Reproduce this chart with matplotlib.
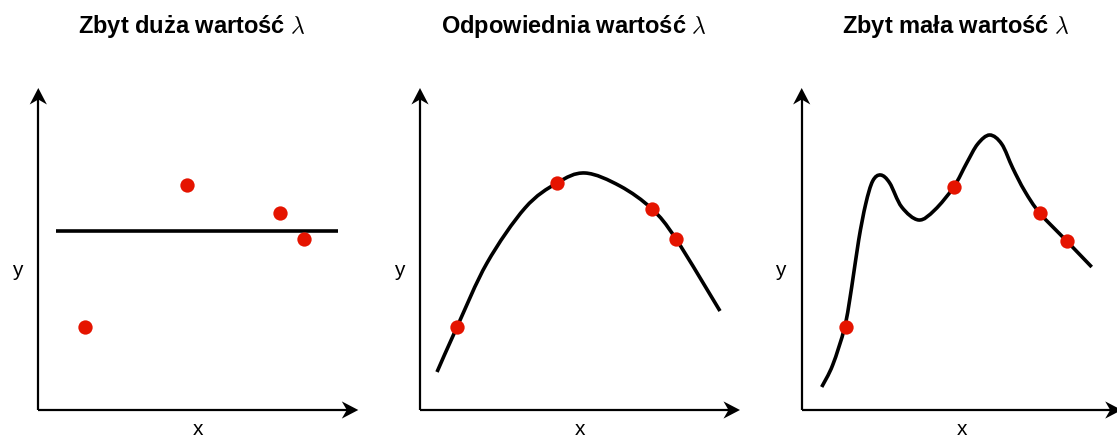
import matplotlib
matplotlib.use("Agg")
import matplotlib.pyplot as plt
import numpy as np
from matplotlib.path import Path
from matplotlib.patches import PathPatch, Polygon

plt.rcParams["font.family"] = ["Liberation Sans", "DejaVu Sans"]
plt.rcParams["mathtext.fontset"] = "cm"

TITLES = ["Zbyt duża wartość $\\lambda$",
          "Odpowiednia wartość $\\lambda$",
          "Zbyt mała wartość $\\lambda$"]

pts1_x = [47, 149, 242, 266]
pts1_y = [83, 225, 197, 171]
pts2_x = [37, 137, 232, 256]
pts2_y = [83, 227, 201, 171]
pts3_x = [44, 152, 238, 265]
pts3_y = [83, 223, 197, 169]

# fitted curves
fit1_x = [18, 300]
fit1_y = [179, 179]
fit2_x = [17, 37, 67, 105, 137, 165, 200, 232, 256, 300]
fit2_y = [38, 83, 147, 202, 227, 237, 224, 201, 171, 99]
fit3_x = [20, 31, 43, 50, 57, 64, 71, 79, 88, 100, 117, 133, 152, 165, 176, 188, 200, 211, 223, 238, 265, 290]
fit3_y = [23, 45, 83, 123, 170, 206, 229, 235, 227, 203, 190, 200, 223, 247, 266, 275, 266, 242, 219, 197, 169, 143]

RED = "#e51400"


def smooth_path(x, y):
    # catmull-rom through the read points, handed to matplotlib as cubic beziers
    p = np.column_stack([x, y]).astype(float)
    if len(p) < 3:
        return Path(p)
    verts = [p[0]]
    codes = [Path.MOVETO]
    for i in range(len(p) - 1):
        p0 = p[i - 1] if i > 0 else p[i]
        p1, p2 = p[i], p[i + 1]
        p3 = p[i + 2] if i + 2 < len(p) else p[i + 1]
        verts += [p1 + (p2 - p0) / 6, p2 - (p3 - p1) / 6, p2]
        codes += [Path.CURVE4] * 3
    return Path(verts, codes)


def draw_axes(ax):
    ax.plot([0, 310], [0, 0], color="black", lw=1.6, solid_capstyle="butt")
    ax.plot([0, 0], [0, 312], color="black", lw=1.6, solid_capstyle="butt")
    ax.add_patch(Polygon([(320, 0), (303.5, -8.6), (308.5, 0), (303.5, 8.6)],
                         closed=True, color="black", lw=0))
    ax.add_patch(Polygon([(0, 322), (-8.6, 305.5), (0, 310.5), (8.6, 305.5)],
                         closed=True, color="black", lw=0))
    ax.text(160, -10, "x", ha="center", va="top", fontsize=15)
    ax.text(-21, 140, "y", ha="center", va="center", fontsize=15)


fig = plt.figure(figsize=(11.17, 4.37), dpi=100)
origins = [38.3, 420, 801.7]
panels = [(pts1_x, pts1_y, fit1_x, fit1_y),
          (pts2_x, pts2_y, fit2_x, fit2_y),
          (pts3_x, pts3_y, fit3_x, fit3_y)]

for ox, title, (px, py, fx, fy) in zip(origins, TITLES, panels):
    ax = fig.add_axes([(ox - 38) / 1117, 0, 370 / 1117, 1])
    ax.set_xlim(-38, 332)
    ax.set_ylim(-27, 410)
    ax.axis("off")
    draw_axes(ax)
    ax.add_patch(PathPatch(smooth_path(fx, fy), fill=False, color="black",
                           lw=2.6, capstyle="butt"))
    ax.plot(px, py, "o", color=RED, markersize=10.3, markeredgewidth=0, zorder=5)
    ax.text(154, 383, title, ha="center", va="center", fontsize=17,
            fontweight="bold")

fig.savefig("out.png", dpi=100)
